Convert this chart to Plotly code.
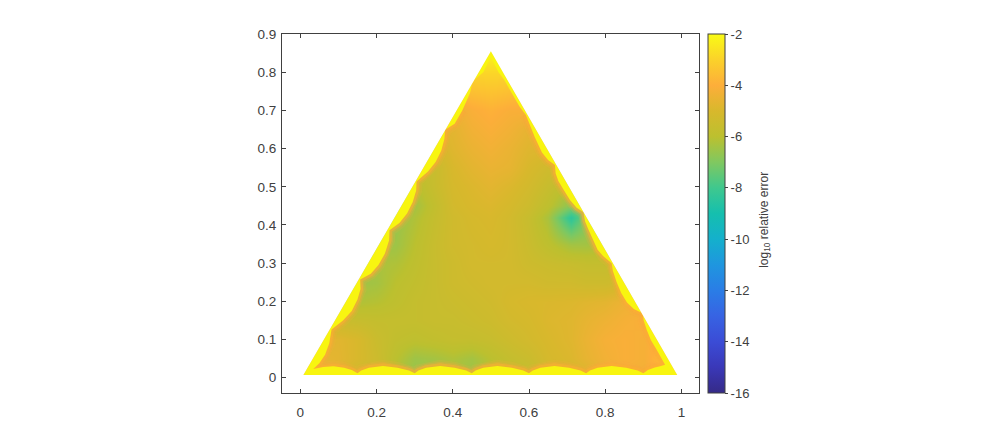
import plotly.graph_objects as go

grid_x = [0, .05, .1, .15, .2, .25, .3, .35, .4, .45, .5, .55, .6, .65, .71, .75, .8, .85, .9, .95, 1]
grid_y = [0, .05, .1, .15, .2, .25, .3, .35, .42, .45, .5, .55, .6, .65, .7, .75, .8, .85]
log_error = [
 [-4.6,-4.6,-4.8,-5.4,-5.6,-6.2,-6.6,-6.4,-6.3,-6.5,-6.1,-5.8,-5.8,-5.4,-5.2,-5.0,-4.5,-4.3,-4.3,-3.8,-3.5],
 [-4.6,-4.6,-4.7,-5.0,-5.4,-6.0,-6.5,-6.4,-6.2,-6.4,-6.0,-5.7,-5.5,-5.1,-4.9,-4.6,-4.3,-4.1,-4.2,-3.6,-3.4],
 [-4.8,-4.8,-4.75,-5.0,-5.5,-5.8,-5.9,-5.8,-5.7,-5.7,-5.6,-5.4,-5.2,-5.0,-4.8,-4.5,-4.2,-4.1,-4.2,-3.8,-3.6],
 [-5.4,-5.4,-5.5,-5.6,-5.7,-5.7,-5.7,-5.6,-5.6,-5.5,-5.4,-5.2,-5.1,-4.9,-4.8,-4.6,-4.4,-4.2,-4.1,-4.0,-4.0],
 [-5.9,-5.9,-5.9,-6.2,-6.1,-5.9,-5.7,-5.6,-5.5,-5.4,-5.3,-5.1,-5.0,-4.95,-4.9,-4.8,-4.7,-4.4,-4.4,-4.4,-4.4],
 [-6.4,-6.4,-6.4,-6.5,-6.4,-6.0,-5.8,-5.6,-5.4,-5.3,-5.2,-5.2,-5.2,-5.3,-5.3,-5.4,-5.4,-5.2,-5.0,-5.0,-5.0],
 [-6.2,-6.2,-6.2,-6.2,-6.3,-6.2,-5.9,-5.6,-5.4,-5.2,-5.2,-5.2,-5.4,-5.5,-5.6,-5.7,-5.7,-5.6,-5.5,-5.5,-5.5],
 [-6.5,-6.5,-6.5,-6.5,-6.5,-6.5,-6.0,-5.6,-5.3,-5.2,-5.1,-5.2,-5.5,-5.9,-6.4,-6.4,-6.2,-6.0,-6.0,-6.0,-6.0],
 [-6.6,-6.6,-6.6,-6.6,-6.6,-6.6,-6.2,-5.7,-5.3,-5.1,-5.0,-5.2,-5.6,-6.3,-8.4,-7.0,-7.0,-7.0,-7.0,-7.0,-7.0],
 [-6.4,-6.4,-6.4,-6.4,-6.4,-6.4,-6.4,-5.8,-5.2,-5.0,-4.9,-5.1,-5.4,-5.9,-6.8,-7.0,-7.0,-7.0,-7.0,-7.0,-7.0],
 [-6.1,-6.1,-6.1,-6.1,-6.1,-6.1,-6.1,-5.6,-5.1,-4.9,-4.7,-4.9,-5.2,-5.6,-6.0,-6.0,-6.0,-6.0,-6.0,-6.0,-6.0],
 [-5.6,-5.6,-5.6,-5.6,-5.6,-5.6,-5.6,-5.6,-5.0,-4.7,-4.5,-4.6,-5.0,-5.3,-5.3,-5.3,-5.3,-5.3,-5.3,-5.3,-5.3],
 [-5.2,-5.2,-5.2,-5.2,-5.2,-5.2,-5.2,-5.2,-4.8,-4.5,-4.3,-4.5,-4.8,-4.8,-4.8,-4.8,-4.8,-4.8,-4.8,-4.8,-4.8],
 [-4.7,-4.7,-4.7,-4.7,-4.7,-4.7,-4.7,-4.7,-4.7,-4.3,-4.1,-4.3,-4.6,-4.6,-4.6,-4.6,-4.6,-4.6,-4.6,-4.6,-4.6],
 [-4.5,-4.5,-4.5,-4.5,-4.5,-4.5,-4.5,-4.5,-4.5,-4.1,-3.9,-4.1,-4.1,-4.1,-4.1,-4.1,-4.1,-4.1,-4.1,-4.1,-4.1],
 [-3.6,-3.6,-3.6,-3.6,-3.6,-3.6,-3.6,-3.6,-3.6,-3.5,-3.4,-3.5,-3.6,-3.6,-3.6,-3.6,-3.6,-3.6,-3.6,-3.6,-3.6],
 [-2.9,-2.9,-2.9,-2.9,-2.9,-2.9,-2.9,-2.9,-2.9,-2.9,-2.9,-2.9,-2.9,-2.9,-2.9,-2.9,-2.9,-2.9,-2.9,-2.9,-2.9],
 [-2.2,-2.2,-2.2,-2.2,-2.2,-2.2,-2.2,-2.2,-2.2,-2.2,-2.2,-2.2,-2.2,-2.2,-2.2,-2.2,-2.2,-2.2,-2.2,-2.2,-2.2],
]

# outer triangle corners (left base, apex, right base)
corner_x = [.008, .5, .989]
corner_y = [.007, .855, .007]

# inner edge of the saturated (yellow) border, counter-clockwise from the left base corner
rim_x = [.034,.06,.087,.115,.135,.15,
         .16,.18,.217,.255,.285,.30,
         .31,.33,.367,.405,.435,.45,
         .46,.48,.517,.555,.585,.60,
         .61,.63,.667,.705,.735,.75,
         .76,.78,.817,.855,.885,.90,
         .912,.93,.944,.957,.935,.92,.909,.901,.898,
         .875,.857,.842,.83,.82,.817,
         .795,.78,.768,.755,.747,.743,
         .725,.708,.692,.677,.67,.668,
         .65,.634,.615,.6,.592,
         .575,.555,.535,.52,.5,.48,.452,
         .445,.425,.405,.38,
         .378,.37,.355,.335,.305,
         .304,.295,.28,.26,.234,
         .233,.222,.205,.185,.157,
         .158,.15,.135,.112,.082,
         .076,.065,.05,.034]
rim_y = [.023,.028,.03,.026,.02,.012,
         .019,.026,.031,.026,.019,.012,
         .019,.026,.031,.026,.019,.012,
         .019,.026,.031,.026,.019,.012,
         .019,.026,.031,.026,.019,.012,
         .019,.026,.031,.026,.019,.012,
         .02,.027,.03,.034,.073,.098,.125,.15,.169,
         .18,.197,.222,.25,.28,.30,
         .318,.335,.36,.39,.41,.433,
         .445,.465,.49,.515,.535,.557,
         .57,.59,.63,.665,.688,
         .71,.745,.78,.80,.84,.80,.776,
         .745,.70,.665,.649,
         .625,.595,.565,.54,.514,
         .49,.46,.43,.405,.386,
         .36,.325,.295,.272,.257,
         .232,.205,.175,.15,.126,
         .09,.06,.038,.023]

# colour stops
cbar_values = [-16,-15,-14,-13,-12,-11,-10,-9,-8,-7,-6,-5,-4,-3,-2]
cbar_colors = ["#352a87","#3a38b8","#3b4cd6","#3763e3","#2a7de6","#1f96df","#14b0cc","#15bfae",
               "#3fc88e","#80c860","#bcc02f","#d8b82c","#fdae3a","#fbd22a","#f9fb15"]

x_ticks = [0, .2, .4, .6, .8, 1]
y_ticks = [0, .1, .2, .3, .4, .5, .6, .7, .8, .9]
x_limits = [-.048, 1.046]
y_limits = [-.04, .9]
cbar_ticks = [-2, -4, -6, -8, -10, -12, -14, -16]
cbar_title = "log<sub>10</sub> relative error"

INK = "#404040"
FONT = "Liberation Sans"

lo, hi = cbar_values[0], cbar_values[-1]
scale = [[(v - lo) / (hi - lo), c] for v, c in zip(cbar_values, cbar_colors)]

fig = go.Figure()
fig.add_trace(go.Heatmap(
    x=grid_x, y=grid_y, z=log_error, zsmooth="best", zmin=lo, zmax=hi, colorscale=scale,
    hoverinfo="skip",
    colorbar=dict(
        x=1.0205, xanchor="left", xpad=0, ypad=0, y=.5, yanchor="middle", len=1, lenmode="fraction",
        thickness=16.5, thicknessmode="pixels", outlinecolor=INK, outlinewidth=1,
        tickmode="array", tickvals=cbar_ticks, ticktext=[str(t) for t in cbar_ticks],
        ticks="outside", ticklen=3, tickwidth=1, tickcolor=INK,
        tickfont=dict(family=FONT, size=13, color=INK),
    ),
))
# soft orange halo along the inner edge of the border (absent at the apex, where colours blend)
cut_a, cut_b = rim_x.index(.575), rim_x.index(.425)
halo_x = rim_x[:cut_a] + [None] + rim_x[cut_b:]
halo_y = rim_y[:cut_a] + [None] + rim_y[cut_b:]
for width, colour in [(12, "rgba(252,165,60,0.16)"), (8, "rgba(252,165,60,0.28)"), (5, "rgba(253,175,50,0.55)")]:
    fig.add_trace(go.Scatter(x=halo_x, y=halo_y, mode="lines", showlegend=False, hoverinfo="skip",
                             line=dict(color=colour, width=width), connectgaps=False))
# saturated border
A, C, B = list(zip(corner_x, corner_y))
band_x = [A[0], C[0], B[0], A[0]] + rim_x + [A[0]]
band_y = [A[1], C[1], B[1], A[1]] + rim_y + [A[1]]
fig.add_trace(go.Scatter(x=band_x, y=band_y, mode="lines", fill="toself", fillcolor="#f8f510",
                         line=dict(width=0, color="#f8f510"), showlegend=False, hoverinfo="skip"))
# white outside the triangle
mask_x = [x_limits[0], x_limits[1], x_limits[1], x_limits[0], x_limits[0], A[0], C[0], B[0], A[0], x_limits[0]]
mask_y = [y_limits[0], y_limits[0], y_limits[1], y_limits[1], y_limits[0], A[1], C[1], B[1], A[1], y_limits[0]]
fig.add_trace(go.Scatter(x=mask_x, y=mask_y, mode="lines", fill="toself", fillcolor="white",
                         line=dict(width=0, color="white"), showlegend=False, hoverinfo="skip"))

axis = dict(showgrid=False, zeroline=False, showline=True, linecolor=INK, linewidth=1, mirror="ticks",
            ticks="inside", ticklen=4, tickwidth=1, tickcolor=INK,
            tickfont=dict(family=FONT, size=13.5, color=INK))
fig.update_layout(
    width=980, height=427, autosize=False,
    margin=dict(l=274, r=289, t=26, b=42),
    paper_bgcolor="white", plot_bgcolor="white",
    xaxis=dict(axis, range=x_limits, tickmode="array", tickvals=x_ticks, ticklabelstandoff=7,
               ticktext=["0", "0.2", "0.4", "0.6", "0.8", "1"]),
    yaxis=dict(axis, range=y_limits, tickmode="array", tickvals=y_ticks, ticklabelstandoff=2,
               ticktext=["0", "0.1", "0.2", "0.3", "0.4", "0.5", "0.6", "0.7", "0.8", "0.9"]),
    annotations=[dict(text=cbar_title, xref="paper", yref="paper", x=1.158, y=.482, textangle=-90,
                      showarrow=False, xanchor="center", yanchor="middle",
                      font=dict(family=FONT, size=12, color=INK))],
)
fig.write_html("out.html")
